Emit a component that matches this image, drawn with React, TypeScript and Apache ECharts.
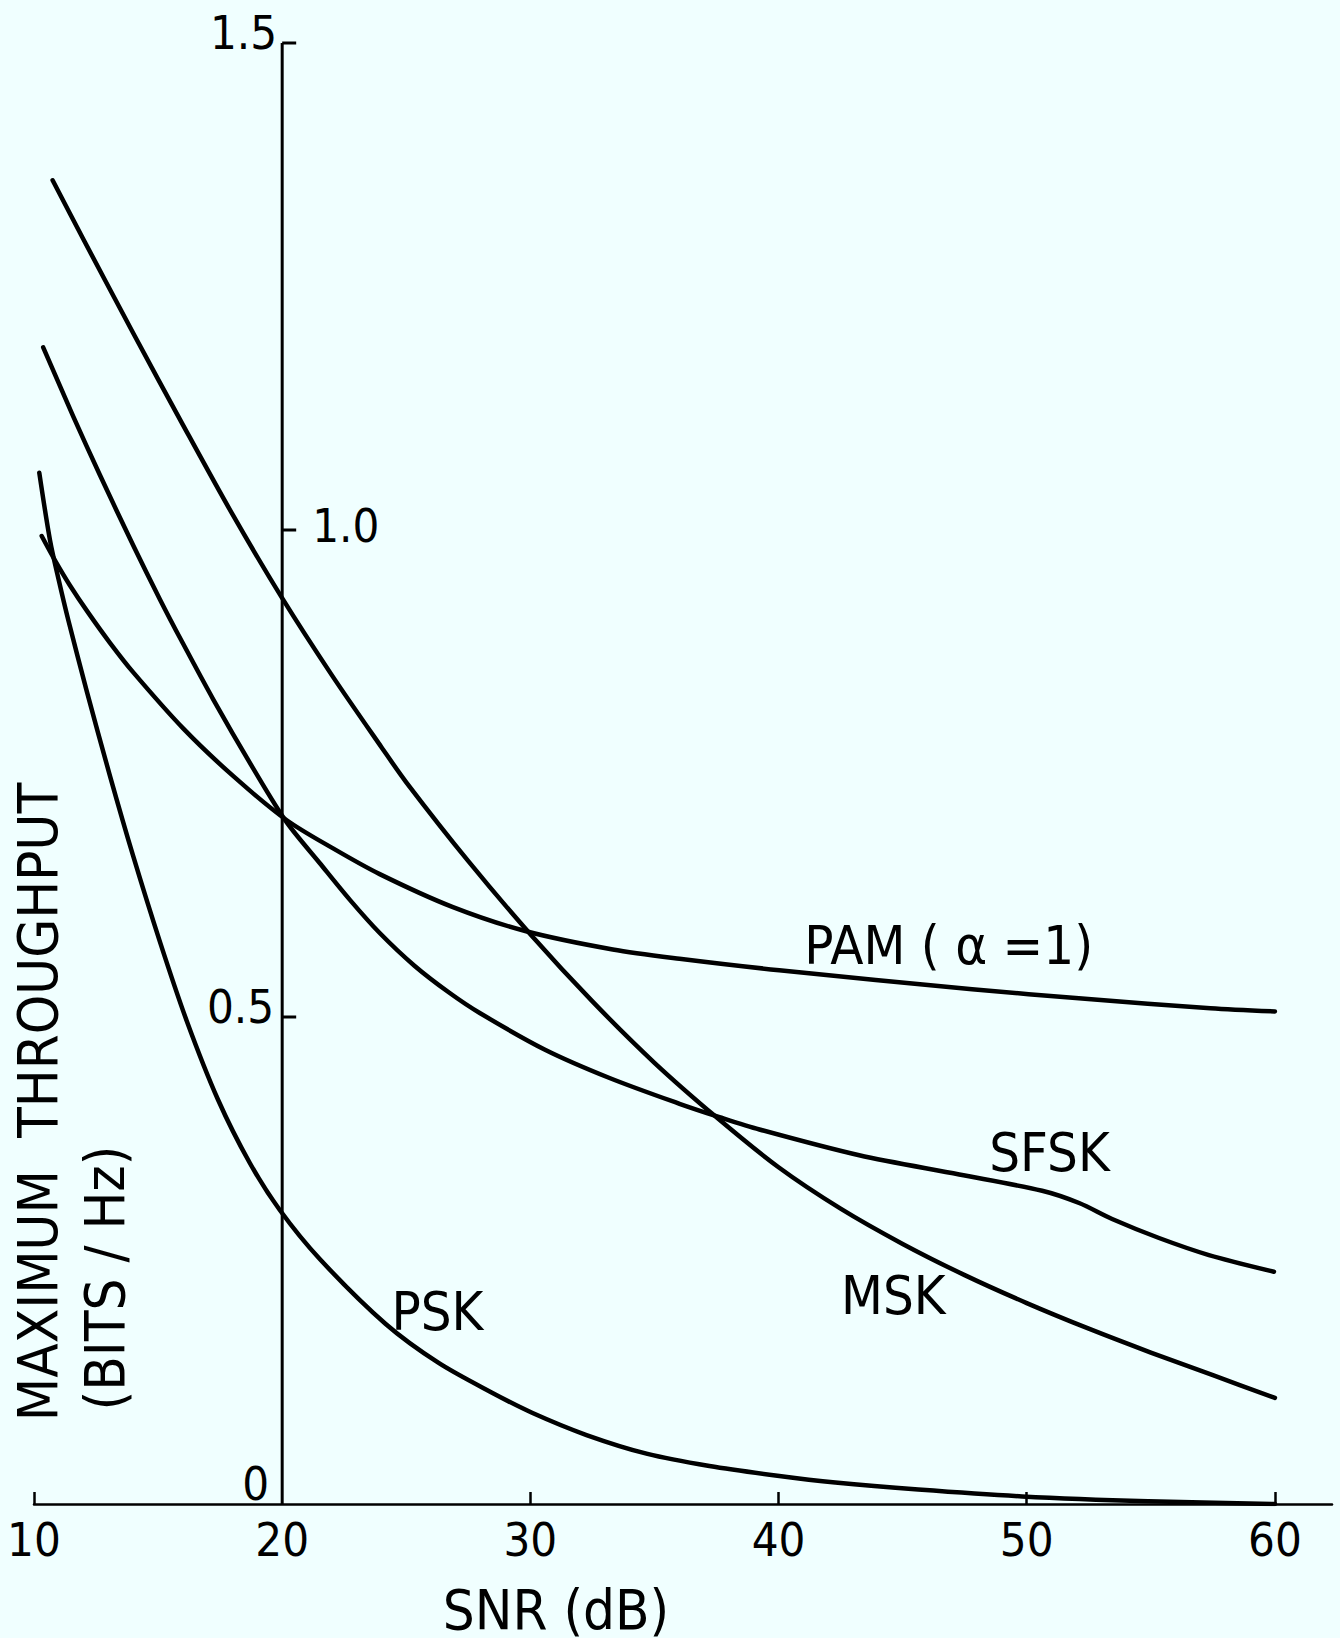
import React, { useEffect, useRef } from 'react';
import * as echarts from 'echarts';

// ---- data ----
const xTickValues = [10, 20, 30, 40, 50, 60];
const xTickMarks = [10, 30, 40, 50, 60];
const yTickValues = [0, 0.5, 1.0, 1.5];
const yTickLabels = ['0', '0.5', '1.0', '1.5'];
const yAxisAtSnr = 20;

const mskData = [
  [10.75, 1.359], [12.0, 1.298], [14.0, 1.202], [16.0, 1.108], [18.0, 1.016],
  [20.0, 0.93], [22.0, 0.851], [24.0, 0.777], [25.0, 0.741], [27.5, 0.66],
  [30.0, 0.585], [32.5, 0.516], [35.0, 0.453], [37.5, 0.397], [40.0, 0.3457],
  [42.5, 0.3032], [45.0, 0.267], [47.5, 0.235], [50.0, 0.2063], [52.5, 0.18],
  [55.0, 0.1555], [57.5, 0.1322], [60.0, 0.109],
];

const sfskData = [
  [10.37, 1.1876], [11.58, 1.1167], [12.66, 1.0562], [14.0, 0.9841], [15.07, 0.929],
  [15.95, 0.886], [17.22, 0.8262], [18.83, 0.7553], [20.17, 0.7003], [21.51, 0.6581],
  [22.72, 0.6205], [23.93, 0.5862], [25.34, 0.5524], [26.75, 0.5246], [27.96, 0.5041],
  [30.57, 0.4667], [33.19, 0.4374], [36.01, 0.4109], [37.62, 0.3972], [39.23, 0.3845],
  [43.25, 0.358], [47.28, 0.3383], [50.62, 0.3216], [52.11, 0.309], [53.44, 0.2926],
  [55.33, 0.2731], [57.34, 0.2556], [59.96, 0.2385],
];

const pamData = [
  [10.31, 0.9938], [10.85, 0.9686], [11.45, 0.9431], [12.19, 0.9149], [13.06, 0.8842],
  [14.0, 0.8538], [16.01, 0.7963], [18.02, 0.7475], [20.17, 0.7023], [22.05, 0.6731],
  [23.93, 0.6467], [26.88, 0.6128], [29.83, 0.588], [33.32, 0.5693], [36.01, 0.5598],
  [40.03, 0.548], [47.8, 0.5285], [52.35, 0.5187], [57.4, 0.509], [60.0, 0.5057],
];

const pskData = [
  [10.213, 1.0588], [10.644, 0.9897], [11.006, 0.9476], [11.381, 0.9076], [12.122, 0.8349],
  [13.06, 0.7476], [13.998, 0.6651], [15.072, 0.5774], [16.147, 0.4965], [17.42, 0.4148],
  [18.696, 0.3501], [19.903, 0.3018], [21.514, 0.2515], [24.171, 0.1848], [26.304, 0.1448],
  [28.398, 0.115], [30.089, 0.0934], [32.262, 0.0708], [34.718, 0.0514], [37.214, 0.039],
  [39.952, 0.029], [42.287, 0.022], [45.628, 0.0148], [49.815, 0.0078], [54.887, 0.0028],
  [60.0, 0.0],
];

const curveLabelNames = ['PAM ( α =1)', 'SFSK', 'MSK', 'PSK'];
const curveLabelAnchors = [
  [41.04, 0.573],
  [48.49, 0.361],
  [42.52, 0.2136],
  [24.4, 0.198],
];

const xTitle = 'SNR (dB)';
const yTitle1 = 'MAXIMUM  THROUGHPUT';
const yTitle2 = '(BITS / Hz)';

// ---- styling ----
const FONT = "'DejaVu Sans Condensed', 'DejaVu Sans', sans-serif";
const INK = '#000000';
const BG = '#f0ffff';

export default function App() {
  const ref = useRef<HTMLDivElement>(null);

  useEffect(() => {
    document.body.style.margin = '0';
    document.body.style.background = BG;
    if (!ref.current) return;
    const chart = echarts.init(ref.current, null, { renderer: 'svg' });

    const lineSeries = (name: string, data: number[][]) => ({
      name,
      type: 'line',
      data,
      showSymbol: false,
      smooth: 0.3,
      z: 3,
      lineStyle: { color: INK, width: 4.5, cap: 'round', join: 'round' },
      silent: true,
    });

    // per-label placement relative to tick point (pixels)
    const labelOffsets = [
      { side: 'left', dx: -13, dy: -21 },
      { side: 'left', dx: -8, dy: -11 },
      { side: 'right', dx: 30, dy: -5 },
      { side: 'left', dx: -5, dy: -11 },
    ];

    const option: any = {
      animation: false,
      backgroundColor: BG,
      grid: { left: 34, right: 8, top: 43, bottom: 134 },
      xAxis: {
        type: 'value',
        min: 10,
        max: 62.3,
        interval: 10,
        axisLine: { show: true, onZero: false, lineStyle: { color: INK, width: 2.5 } },
        axisTick: {
          show: true,
          inside: true,
          length: 12,
          customValues: xTickMarks,
          lineStyle: { color: INK, width: 2.5 },
        },
        axisLabel: {
          customValues: xTickValues,
          color: INK,
          fontSize: 47,
          fontFamily: FONT,
          margin: 12,
        },
        splitLine: { show: false },
      },
      yAxis: {
        type: 'value',
        min: 0,
        max: 1.5,
        show: false,
      },
      series: [
        lineSeries('MSK', mskData),
        lineSeries('SFSK', sfskData),
        lineSeries('PAM', pamData),
        lineSeries('PSK', pskData),
        {
          type: 'custom',
          name: 'yAxisDrawn',
          data: [[yAxisAtSnr, 0]],
          clip: false,
          silent: true,
          z: 4,
          renderItem: (_params: any, api: any) => {
            const base = api.coord([yAxisAtSnr, yTickValues[0]]);
            const top = api.coord([yAxisAtSnr, yTickValues[yTickValues.length - 1]]);
            const children: any[] = [
              {
                type: 'line',
                shape: { x1: base[0], y1: base[1] + 1, x2: top[0], y2: top[1] },
                style: { stroke: INK, lineWidth: 3 },
              },
            ];
            yTickValues.forEach((v, i) => {
              const p = api.coord([yAxisAtSnr, v]);
              if (i > 0) {
                children.push({
                  type: 'line',
                  shape: { x1: p[0], y1: p[1], x2: p[0] + 14, y2: p[1] },
                  style: { stroke: INK, lineWidth: 3 },
                });
              }
              const o = labelOffsets[i];
              children.push({
                type: 'text',
                style: {
                  text: yTickLabels[i],
                  x: p[0] + o.dx,
                  y: p[1] + o.dy,
                  fill: INK,
                  fontSize: 47,
                  fontFamily: FONT,
                  align: o.side === 'left' ? 'right' : 'left',
                  verticalAlign: 'middle',
                },
              });
            });
            return { type: 'group', children };
          },
        },
        {
          type: 'custom',
          name: 'curveLabels',
          data: curveLabelAnchors,
          clip: false,
          silent: true,
          z: 5,
          renderItem: (params: any, api: any) => {
            const p = api.coord([api.value(0), api.value(1)]);
            return {
              type: 'text',
              style: {
                text: curveLabelNames[params.dataIndex],
                x: p[0],
                y: p[1],
                fill: INK,
                fontSize: 54,
                fontFamily: FONT,
                align: 'left',
                verticalAlign: 'middle',
              },
            };
          },
        },
      ],
      graphic: [
        {
          type: 'text',
          x: 556,
          y: 1609,
          style: {
            text: xTitle,
            fill: INK,
            fontSize: 56,
            fontFamily: FONT,
            align: 'center',
            verticalAlign: 'middle',
          },
        },
        {
          type: 'text',
          x: 37,
          y: 1102,
          rotation: Math.PI / 2,
          style: {
            text: yTitle1,
            fill: INK,
            fontSize: 56,
            fontFamily: FONT,
            align: 'center',
            verticalAlign: 'middle',
          },
        },
        {
          type: 'text',
          x: 104,
          y: 1278,
          rotation: Math.PI / 2,
          style: {
            text: yTitle2,
            fill: INK,
            fontSize: 56,
            fontFamily: FONT,
            align: 'center',
            verticalAlign: 'middle',
          },
        },
      ],
    };

    chart.setOption(option);
    return () => chart.dispose();
  }, []);

  return <div ref={ref} style={{ width: 1340, height: 1638 }} />;
}
